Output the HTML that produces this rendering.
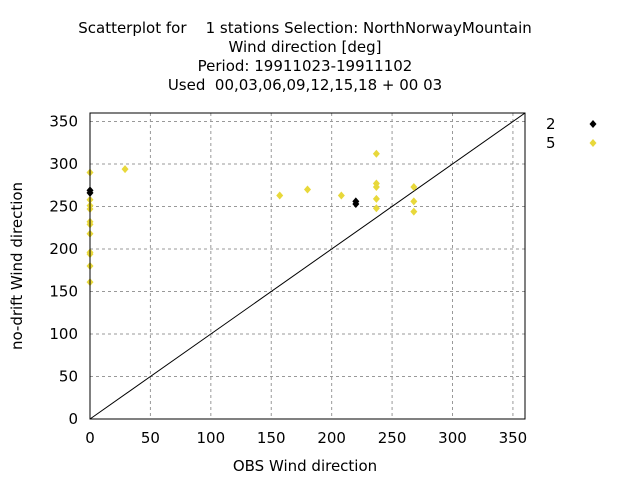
<!DOCTYPE html>
<html><head><meta charset="utf-8"><style>
body{margin:0;background:#fff}
svg{font-family:"DejaVu Sans","Liberation Sans",sans-serif;font-size:15px}
</style></head><body>
<svg id="chart" width="640" height="480">
<g text-anchor="middle" fill="#000">
<text x="305" y="33">Scatterplot for&#160;&#160;&#160;&#160;1 stations Selection: NorthNorwayMountain</text>
<text x="305" y="52">Wind direction [deg]</text>
<text x="305" y="71">Period: 19911023-19911102</text>
<text x="305" y="90">Used&#160;&#160;00,03,06,09,12,15,18 + 00 03</text>
</g>
<g id="grid"></g>
<g id="ticks"></g>
<line id="diag" stroke="#000" stroke-width="1"/>
<g id="pts"></g>
<rect x="90" y="113" width="435" height="306" fill="none" stroke="#000"/>
<text x="305" y="471" text-anchor="middle">OBS Wind direction</text>
<text transform="translate(22,266) rotate(-90)" text-anchor="middle">no-drift Wind direction</text>
<g>
<text x="546" y="129">2</text>
<path d="M593 120l3.5 4-3.5 4-3.5-4z" fill="#000"/>
<text x="546" y="148">5</text>
<path d="M593 139l3.5 4-3.5 4-3.5-4z" fill="#e8d83a"/>
</g>
</svg>
<script>
const xTicks=[0,50,100,150,200,250,300,350];
const yTicks=[0,50,100,150,200,250,300,350];
const s2x=[0,0,220,220];
const s2y=[269,266,253,256];
const s5x=[0,0,0,0,0,0,0,0,0,0,0,29,157,180,208,237,237,237,237,237,268,268,268];
const s5y=[290,258,251,247,232,229,218,196,194,180,161,294,263,270,263,312,277,273,259,248,273,256,244];
const NS='http://www.w3.org/2000/svg';
function X(v){return 90+v*435/360;}
function Y(v){return 419-v*306/360;}
function mk(t,a){const e=document.createElementNS(NS,t);for(const k in a)e.setAttribute(k,a[k]);return e;}
const grid=document.getElementById('grid'),ticks=document.getElementById('ticks'),pts=document.getElementById('pts');
xTicks.forEach(v=>{
 if(v>0){const l=mk('line',{x1:X(v),x2:X(v),y1:113,y2:419,stroke:'#999','stroke-dasharray':'3,3'});
 
 grid.appendChild(l);}
 const t=mk('text',{x:X(v),y:443,'text-anchor':'middle'});t.textContent=v;
 
 ticks.appendChild(t);
});
yTicks.forEach(v=>{
 if(v>0){const l=mk('line',{x1:90,x2:525,y1:Y(v),y2:Y(v),stroke:'#999','stroke-dasharray':'3,3'});
 
 grid.appendChild(l);}
 const t=mk('text',{x:78,y:Y(v)+5,'text-anchor':'end'});t.textContent=v;
 
 ticks.appendChild(t);
});
const d=document.getElementById('diag');
d.setAttribute('x1',X(0));d.setAttribute('y1',Y(0));d.setAttribute('x2',X(360));d.setAttribute('y2',Y(360));
function pt(x,y,c,n){const p=mk('path',{d:`M${X(x)} ${Y(y)-4}l3.5 4-3.5 4-3.5-4z`,fill:c});
 
 pts.appendChild(p);}
s5x.forEach((x,i)=>pt(x,s5y[i],'#e8d83a','point-series-5'));
s2x.forEach((x,i)=>pt(x,s2y[i],'#000','point-series-2'));
</script>
</body></html>
